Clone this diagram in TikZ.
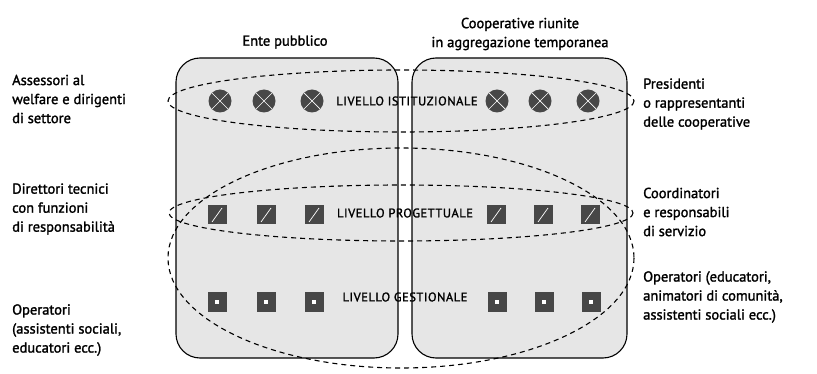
\documentclass[tikz,border=0pt]{standalone}
\usepackage{fontspec}
\setmainfont{PT Sans}[FakeBold=1.6]
\definecolor{boxgray}{HTML}{E6E6E6}
\definecolor{icongray}{HTML}{474747}
\tikzset{
  ente/.style={draw, line width=1.1pt, fill=boxgray, rounded corners=24pt, inner sep=0pt},
  livello/.style={dashed, dash pattern=on 5pt off 4pt, line width=1.1pt},
  testo/.style={align=left, font=\fontsize{14.5}{19}\selectfont, inner sep=0pt},
  titolo/.style={align=center, font=\fontsize{14.5}{19}\selectfont, inner sep=0pt},
  etichetta/.style={font=\fontsize{12.5}{13}\selectfont\addfontfeatures{LetterSpace=4}, inner sep=0pt},
  istit/.style={circle, fill=icongray, minimum size=23pt, inner sep=0pt,
    path picture={\draw[white, line width=0.7pt]
      ([xshift=-8pt,yshift=-8pt]path picture bounding box.center) -- ([xshift=8pt,yshift=8pt]path picture bounding box.center)
      ([xshift=-8pt,yshift=8pt]path picture bounding box.center) -- ([xshift=8pt,yshift=-8pt]path picture bounding box.center);}},
  proget/.style={rectangle, fill=icongray, minimum size=19pt, inner sep=0pt,
    path picture={\draw[white, line width=0.7pt]
      ([xshift=-5pt,yshift=-7pt]path picture bounding box.center) -- ([xshift=5pt,yshift=7pt]path picture bounding box.center);}},
  gestio/.style={rectangle, fill=icongray, minimum size=19pt, inner sep=0pt,
    path picture={\fill[white] ([xshift=-1.6pt,yshift=-1.6pt]path picture bounding box.center) rectangle ([xshift=1.6pt,yshift=1.6pt]path picture bounding box.center);}}
}
\begin{document}
\begin{tikzpicture}[x=1pt, y=-1pt]
    \useasboundingbox (0,0) rectangle (817,374);
    % Boxes
    \node[ente, minimum width=222pt, minimum height=300pt] (pubblico) at (287,208) {};
    \node[ente, minimum width=215pt, minimum height=300pt] (coop) at (519.5,208) {};
    % Titles
    \node[titolo] (tpubblico) at (285,42) {Ente pubblico};
    \node[titolo] (tcoop) at (520,34) {Cooperative riunite\\in aggregazione temporanea};
    % Icons
    \foreach \n/\x in {1/220, 2/264, 3/312, 4/497, 5/540, 6/588}
        \node[istit] (ist\n) at (\x,101) {};
    \foreach \n/\x in {1/217, 2/266, 3/314, 4/496, 5/543, 6/590}
        \node[proget] (prog\n) at (\x,215) {};
    \foreach \n/\x in {1/217, 2/266, 3/314, 4/497, 5/544, 6/591}
        \node[gestio] (gest\n) at (\x,302) {};
    % Levels
    \draw[livello] (401,101) ellipse [x radius=233, y radius=31];
    \draw[livello] (401,213) ellipse [x radius=232, y radius=28];
    \draw[livello] (401,258) ellipse [x radius=233, y radius=110];
    \node[etichetta] (listit) at (407,101) {LIVELLO ISTITUZIONALE};
    \node[etichetta] (lprog) at (405,213) {LIVELLO PROGETTUALE};
    \node[etichetta] (lgest) at (405,297) {LIVELLO GESTIONALE};
    % Actors
    \node[testo, anchor=west] (assessori) at (12,99) {Assessori al\\welfare e dirigenti\\di settore};
    \node[testo, anchor=west] (direttori) at (12,209) {Direttori tecnici\\con funzioni\\di responsabilità};
    \node[testo, anchor=west] (operpub) at (12,330) {Operatori\\(assistenti sociali,\\educatori ecc.)};
    \node[testo, anchor=west] (presidenti) at (643,104) {Presidenti\\o rappresentanti\\delle cooperative};
    \node[testo, anchor=west] (coordinatori) at (643,212) {Coordinatori\\e responsabili\\di servizio};
    \node[testo, anchor=west] (opercoop) at (643,297) {Operatori (educatori,\\animatori di comunità,\\assistenti sociali ecc.)};
\end{tikzpicture}
\end{document}
